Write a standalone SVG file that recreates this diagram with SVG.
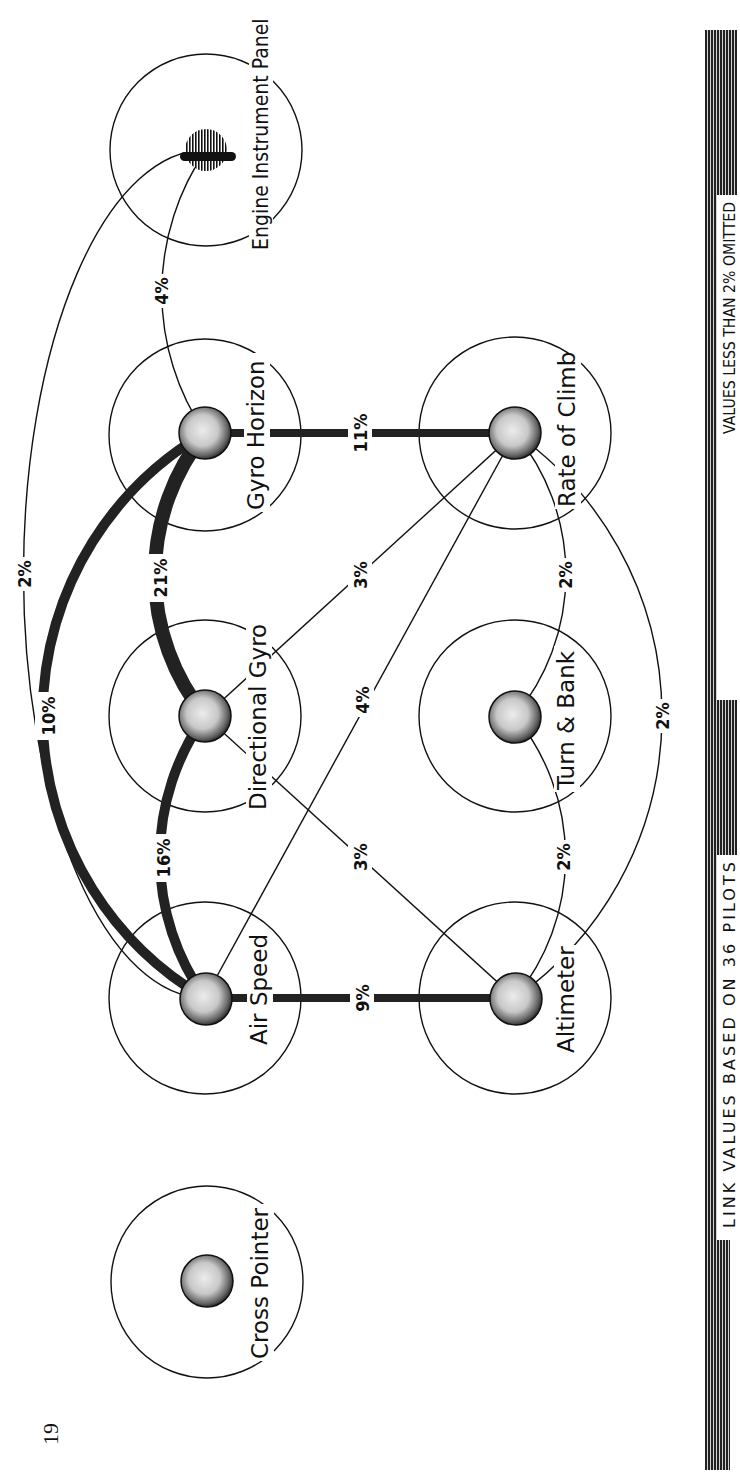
<svg xmlns="http://www.w3.org/2000/svg" width="740" height="1475" viewBox="0 0 740 1475">
<defs>
<radialGradient id="dotg" cx="0.45" cy="0.45" r="0.6">
<stop offset="0" stop-color="#ececec"/>
<stop offset="0.5" stop-color="#c8c8c8"/>
<stop offset="0.8" stop-color="#666"/>
<stop offset="1" stop-color="#111"/>
</radialGradient>
<pattern id="hatch" width="3" height="6" patternUnits="userSpaceOnUse">
<rect width="3" height="6" fill="#fff"/>
<rect width="2.2" height="6" fill="#222"/>
</pattern>
<pattern id="vstripe" width="3" height="4" patternUnits="userSpaceOnUse">
<rect width="3" height="4" fill="#fff"/>
<rect width="1.6" height="4" fill="#111"/>
</pattern>
</defs>
<style>
.ring{fill:none;stroke:#111;stroke-width:1.4}
.dot{fill:url(#dotg);stroke:#111;stroke-width:1.5}
.thin{fill:none;stroke:#111;stroke-width:1.4}
.thick{fill:none;stroke:#222}
.nl{font-family:"DejaVu Sans",sans-serif;font-size:23px;fill:#111}
.nlc{font-family:"DejaVu Sans Condensed","DejaVu Sans",sans-serif;font-size:21px;fill:#111}
.pl{font-family:"DejaVu Sans Condensed","DejaVu Sans",sans-serif;font-weight:bold;font-size:18px;fill:#111;text-anchor:middle}
.lg{font-family:"DejaVu Sans",sans-serif;font-size:16px;fill:#111}
.ko{fill:#fff}
</style>
<rect width="740" height="1475" fill="#fff"/>

<g id="rings">
<circle class="ring" cx="206" cy="150" r="96"/>
<circle class="ring" cx="205" cy="435" r="96"/>
<circle class="ring" cx="205" cy="716" r="96"/>
<circle class="ring" cx="205" cy="998" r="96"/>
<circle class="ring" cx="207" cy="1282" r="96"/>
<circle class="ring" cx="515" cy="433" r="96"/>
<circle class="ring" cx="515" cy="716" r="96"/>
<circle class="ring" cx="515" cy="998" r="96"/>
</g>

<g id="connectors">
<path class="thin" d="M205,998 A182,424 0 0 1 206,150"/>
<path class="thin" d="M205,433 A251,251 0 0 1 206,150"/>
<path class="thick" stroke-width="10" d="M205,998 A327,327 0 0 1 205,433"/>
<path class="thick" stroke-width="10" d="M205,998 A243,243 0 0 1 205,716"/>
<path class="thick" stroke-width="14" stroke="#555" d="M205,716 A225,225 0 0 1 205,433"/>
<line class="thick" stroke-width="8" x1="205" y1="998" x2="515" y2="998"/>
<line class="thick" stroke-width="8" x1="205" y1="433" x2="515" y2="433"/>
<line class="thin" x1="205" y1="716" x2="515" y2="433"/>
<line class="thin" x1="205" y1="716" x2="515" y2="998"/>
<line class="thin" x1="205" y1="998" x2="515" y2="433"/>
<path class="thin" d="M515,433 A222,222 0 0 1 515,716"/>
<path class="thin" d="M515,716 A222,222 0 0 1 515,998"/>
<path class="thin" d="M515,433 A345,345 0 0 1 515,998"/>
</g>

<g id="link-labels">
<rect class="ko" x="350" y="981" width="24" height="34"/>
<text class="pl" transform="translate(362,998) rotate(-90)" y="6.5">9%</text>
<rect class="ko" x="348" y="410" width="24" height="46"/>
<text class="pl" transform="translate(360,433) rotate(-90)" y="6.5">11%</text>
<rect class="ko" x="150" y="834" width="26" height="48"/>
<text class="pl" transform="translate(163,858) rotate(-90)" y="6.5">16%</text>
<rect class="ko" x="146" y="554" width="28" height="48"/>
<text class="pl" transform="translate(160,578) rotate(-90)" y="6.5">21%</text>
<rect class="ko" x="35" y="692" width="26" height="48"/>
<text class="pl" transform="translate(48,716) rotate(-90)" y="6.5">10%</text>
<rect class="ko" x="12" y="557" width="24" height="34"/>
<text class="pl" transform="translate(24,574) rotate(-90)" y="6.5">2%</text>
<rect class="ko" x="149" y="274" width="24" height="34"/>
<text class="pl" transform="translate(161,291) rotate(-90)" y="6.5">4%</text>
<rect class="ko" x="348" y="558" width="24" height="34"/>
<text class="pl" transform="translate(360,575) rotate(-90)" y="6.5">3%</text>
<rect class="ko" x="350" y="683" width="24" height="34"/>
<text class="pl" transform="translate(362,700) rotate(-90)" y="6.5">4%</text>
<rect class="ko" x="348" y="840" width="24" height="34"/>
<text class="pl" transform="translate(360,857) rotate(-90)" y="6.5">3%</text>
<rect class="ko" x="553" y="558" width="24" height="34"/>
<text class="pl" transform="translate(565,575) rotate(-90)" y="6.5">2%</text>
<rect class="ko" x="551" y="840" width="24" height="34"/>
<text class="pl" transform="translate(563,857) rotate(-90)" y="6.5">2%</text>
<rect class="ko" x="650" y="699" width="24" height="34"/>
<text class="pl" transform="translate(662,716) rotate(-90)" y="6.5">2%</text>
</g>

<g id="engine-instrument-panel">
<circle cx="206" cy="150" r="21" fill="url(#vstripe)"/>
<rect x="180" y="152" width="56" height="9" rx="4.5" fill="#111"/>
<rect class="ko" x="249" y="14" width="24" height="238"/>
<text class="nlc" transform="translate(268,250) rotate(-90)">Engine Instrument Panel</text>
</g>
<g id="gyro-horizon">
<circle class="dot" cx="205" cy="433" r="26"/>
<rect class="ko" x="244" y="353" width="26" height="159"/>
<text class="nl" transform="translate(264,510) rotate(-90)">Gyro Horizon</text>
</g>
<g id="directional-gyro">
<circle class="dot" cx="205" cy="716" r="26"/>
<rect class="ko" x="246" y="608" width="26" height="204"/>
<text class="nl" transform="translate(266,810) rotate(-90)">Directional Gyro</text>
</g>
<g id="air-speed">
<circle class="dot" cx="206" cy="999" r="26"/>
<rect class="ko" x="247" y="931" width="26" height="116"/>
<text class="nl" transform="translate(267,1045) rotate(-90)">Air Speed</text>
</g>
<g id="cross-pointer">
<circle class="dot" cx="207" cy="1281" r="26"/>
<rect class="ko" x="248" y="1204" width="26" height="157"/>
<text class="nl" transform="translate(268,1359) rotate(-90)">Cross Pointer</text>
</g>
<g id="rate-of-climb">
<circle class="dot" cx="515" cy="433" r="26"/>
<rect class="ko" x="555" y="355" width="26" height="154"/>
<text class="nl" transform="translate(575,507) rotate(-90)">Rate of Climb</text>
</g>
<g id="turn-and-bank">
<circle class="dot" cx="515" cy="717" r="26"/>
<rect class="ko" x="554" y="646" width="26" height="146"/>
<text class="nl" transform="translate(574,790) rotate(-90)">Turn &amp; Bank</text>
</g>
<g id="altimeter">
<circle class="dot" cx="516" cy="999" r="26"/>
<rect class="ko" x="554" y="945" width="26" height="110"/>
<text class="nl" transform="translate(574,1053) rotate(-90)">Altimeter</text>
</g>

<g id="legend">
<rect x="705" y="30" width="12" height="1440" fill="url(#hatch)"/>
<rect x="705" y="30" width="32" height="165" fill="url(#hatch)"/>
<rect x="705" y="700" width="32" height="155" fill="url(#hatch)"/>
<rect x="705" y="1240" width="25" height="230" fill="url(#hatch)"/>
<text class="lg" transform="translate(735,1228) rotate(-90)" textLength="366" lengthAdjust="spacing">LINK VALUES BASED ON  36 PILOTS</text>
<text class="lg" transform="translate(735,434) rotate(-90)" textLength="232" lengthAdjust="spacingAndGlyphs">VALUES LESS THAN 2% OMITTED</text>
</g>

<text font-family="Liberation Serif,serif" font-size="22" fill="#111" transform="translate(58,1445) rotate(-90)">19</text>
</svg>
